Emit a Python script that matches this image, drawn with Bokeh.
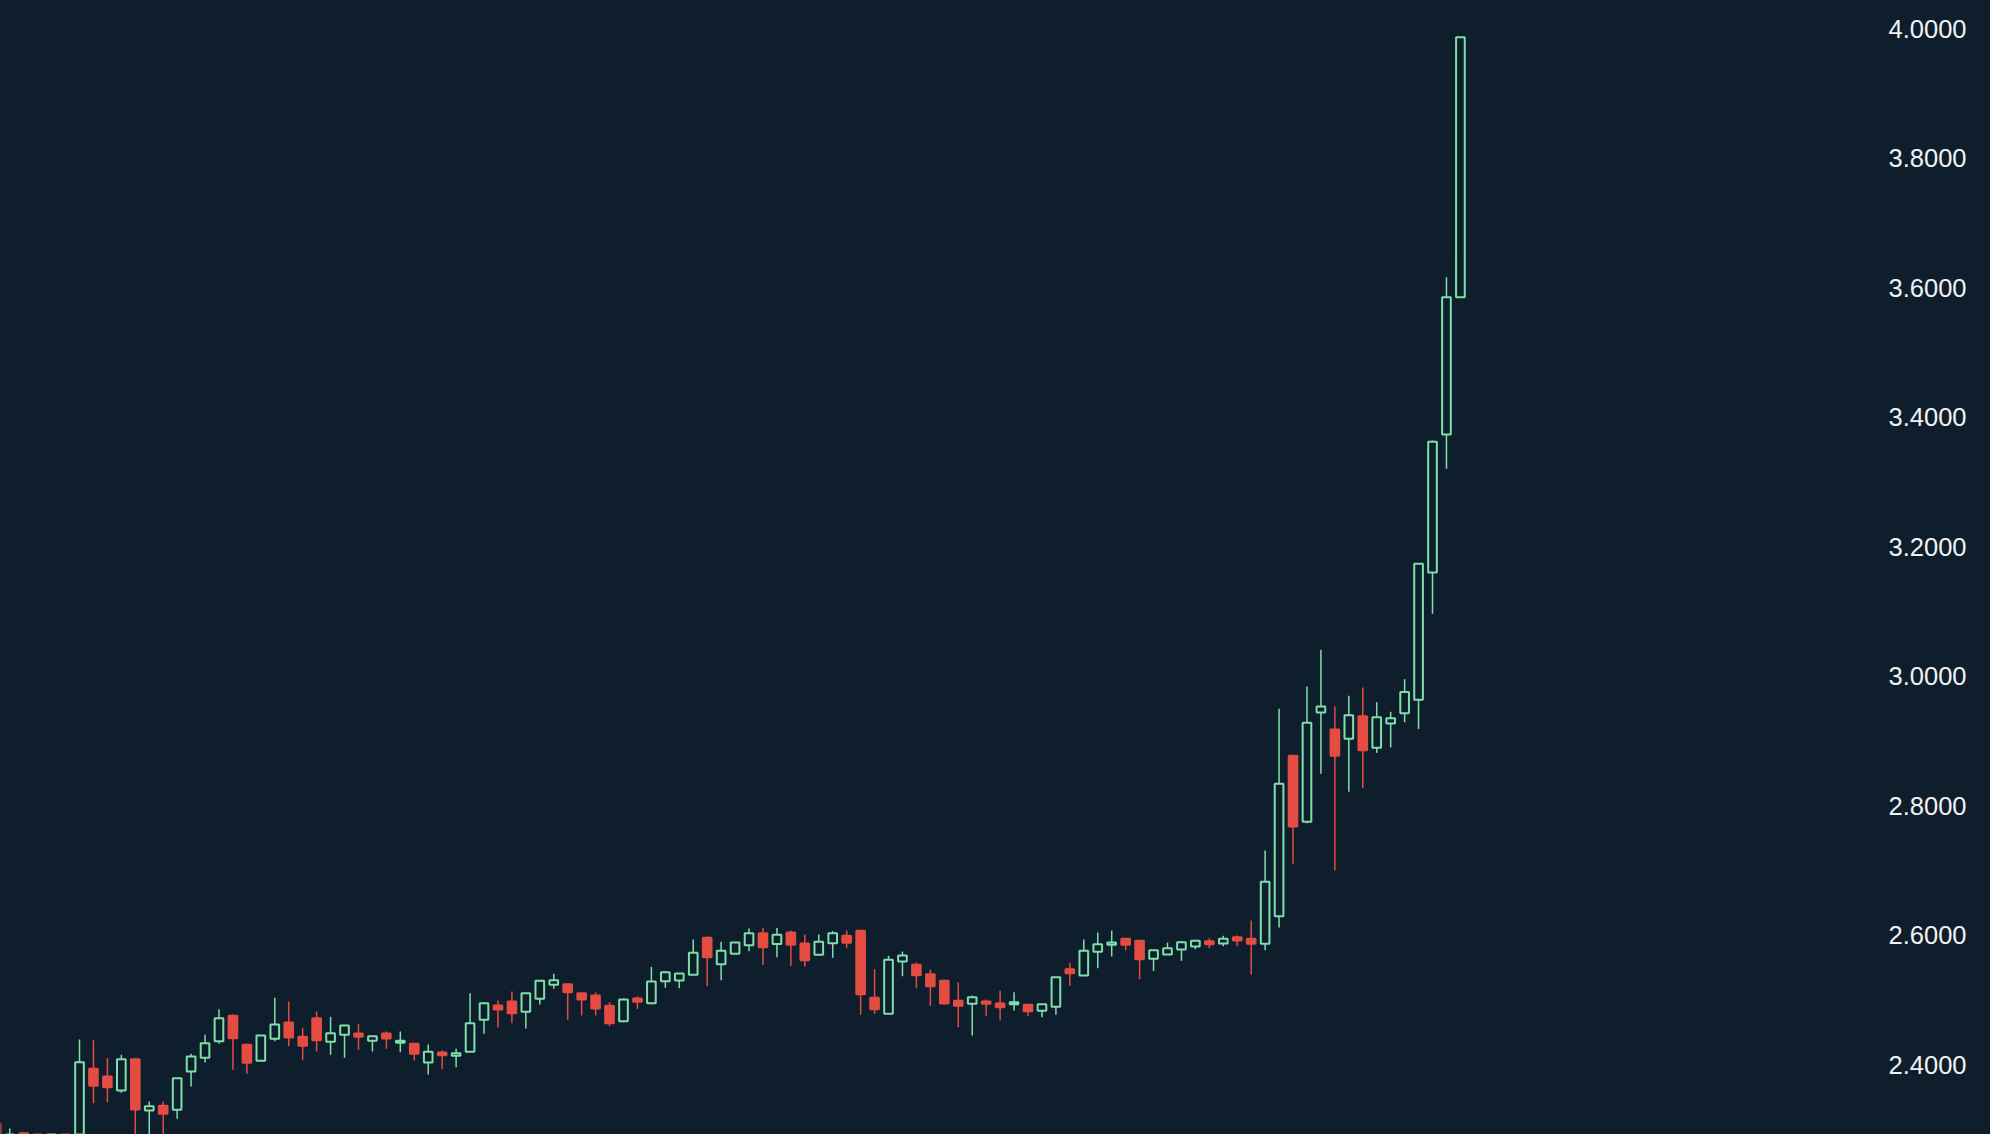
import numpy as np
from bokeh.plotting import figure
from bokeh.models import ColumnDataSource, FixedTicker, NumeralTickFormatter, GlobalInlineStyleSheet
from bokeh.embed import file_html
from bokeh.resources import INLINE

# OHLC values, oldest first
opens = [2.3092, 2.2650, 2.2942, 2.2700, 2.2600, 2.2750,
         2.2800, 2.3937, 2.3818, 2.3602, 2.4085, 2.3293, 2.3365, 2.3304, 2.3895, 2.4107,
         2.4363, 2.4755, 2.4307, 2.4060, 2.4400, 2.4652, 2.4431, 2.4718, 2.4354, 2.4462,
         2.4482, 2.4369, 2.4482, 2.4338, 2.4323, 2.4034, 2.4188, 2.4137, 2.4199, 2.4694,
         2.4914, 2.4976, 2.4817, 2.5018, 2.5234, 2.5243, 2.5104, 2.5069, 2.4910, 2.4672,
         2.5022, 2.4950, 2.5290, 2.5300, 2.5388, 2.5960, 2.5552, 2.5713, 2.5846, 2.6031,
         2.5864, 2.6042, 2.5872, 2.5697, 2.5876, 2.5991, 2.6068, 2.5033, 2.4786, 2.5594,
         2.5543, 2.5398, 2.5296, 2.4987, 2.4940, 2.4976, 2.4945, 2.4934, 2.4925, 2.4832,
         2.4894, 2.5475, 2.5378, 2.5744, 2.5852, 2.5944, 2.5913, 2.5635, 2.5702, 2.5779,
         2.5826, 2.5907, 2.5872, 2.5969, 2.5944, 2.5867, 2.6293, 2.8771, 2.7751, 2.9439,
         2.9177, 2.9033, 2.9382, 2.8894, 2.9270, 2.9427, 2.9636, 3.1602, 3.3733, 3.5853]
highs = [2.3150, 2.3015, 2.2950, 2.2800, 2.2780, 2.2820,
         2.4389, 2.4378, 2.4100, 2.4153, 2.4100, 2.3432, 2.3432, 2.3792, 2.4168, 2.4462,
         2.4857, 2.4775, 2.4323, 2.4451, 2.5033, 2.4976, 2.4570, 2.4822, 2.4740, 2.4616,
         2.4626, 2.4440, 2.4513, 2.4513, 2.4323, 2.4312, 2.4219, 2.4246, 2.5104, 2.4961,
         2.4992, 2.5131, 2.5104, 2.5296, 2.5404, 2.5243, 2.5104, 2.5115, 2.4965, 2.5022,
         2.5053, 2.5512, 2.5436, 2.5408, 2.5934, 2.5980, 2.5898, 2.5887, 2.6104, 2.6114,
         2.6111, 2.6073, 2.6011, 2.6011, 2.6062, 2.6073, 2.6068, 2.5475, 2.5682, 2.5748,
         2.5578, 2.5470, 2.5311, 2.5270, 2.5069, 2.5007, 2.5146, 2.5120, 2.4925, 2.4934,
         2.5351, 2.5574, 2.5934, 2.6042, 2.6073, 2.5960, 2.5913, 2.5768, 2.5887, 2.5907,
         2.5929, 2.5954, 2.5991, 2.5995, 2.6227, 2.7308, 2.9496, 2.8786, 2.9841, 3.0408,
         2.9532, 2.9697, 2.9826, 2.9599, 2.9450, 2.9954, 3.1736, 3.3640, 3.6162, 3.9869]
lows = [2.2700, 2.2550, 2.2600, 2.2550, 2.2500, 2.2600,
        2.2700, 2.3405, 2.3421, 2.3566, 2.2800, 2.2800, 2.2850, 2.3165, 2.3663, 2.4034,
        2.4323, 2.3921, 2.3859, 2.4060, 2.4363, 2.4286, 2.4076, 2.4204, 2.4153, 2.4107,
        2.4230, 2.4204, 2.4246, 2.4193, 2.4065, 2.3849, 2.3930, 2.3961, 2.4199, 2.4477,
        2.4575, 2.4641, 2.4559, 2.4930, 2.5172, 2.4694, 2.4760, 2.4760, 2.4595, 2.4656,
        2.4863, 2.4934, 2.5188, 2.5182, 2.5388, 2.5212, 2.5305, 2.5713, 2.5753, 2.5543,
        2.5660, 2.5527, 2.5517, 2.5697, 2.5651, 2.5799, 2.4771, 2.4786, 2.4786, 2.5367,
        2.5182, 2.4910, 2.4930, 2.4579, 2.4451, 2.4755, 2.4683, 2.4837, 2.4749, 2.4734,
        2.4771, 2.5219, 2.5378, 2.5490, 2.5671, 2.5768, 2.5320, 2.5447, 2.5702, 2.5605,
        2.5784, 2.5799, 2.5830, 2.5830, 2.5393, 2.5768, 2.6119, 2.7103, 2.7730, 2.8493,
        2.6999, 2.8215, 2.8270, 2.8817, 2.8899, 2.9288, 2.9185, 3.0964, 3.3203, 3.5853]
closes = [2.2850, 2.2800, 2.2700, 2.2600, 2.2720, 2.2650,
          2.4039, 2.3674, 2.3653, 2.4085, 2.3308, 2.3359, 2.3242, 2.3792, 2.4127, 2.4332,
          2.4718, 2.4409, 2.4029, 2.4451, 2.4621, 2.4420, 2.4292, 2.4378, 2.4487, 2.4605,
          2.4431, 2.4440, 2.4405, 2.4369, 2.4168, 2.4199, 2.4147, 2.4178, 2.4641, 2.4950,
          2.4853, 2.4795, 2.5104, 2.5296, 2.5305, 2.5120, 2.5007, 2.4868, 2.4641, 2.5007,
          2.4971, 2.5285, 2.5429, 2.5408, 2.5728, 2.5660, 2.5759, 2.5887, 2.6031, 2.5815,
          2.6006, 2.5852, 2.5614, 2.5898, 2.6031, 2.5883, 2.5089, 2.4857, 2.5620, 2.5687,
          2.5382, 2.5212, 2.4945, 2.4910, 2.5042, 2.4940, 2.4888, 2.4965, 2.4826, 2.4934,
          2.5351, 2.5413, 2.5759, 2.5861, 2.5887, 2.5852, 2.5629, 2.5768, 2.5799, 2.5892,
          2.5913, 2.5861, 2.5944, 2.5918, 2.5867, 2.6825, 2.8338, 2.7679, 2.9280, 2.9532,
          2.8771, 2.9398, 2.8857, 2.9367, 2.9351, 2.9756, 3.1736, 3.3620, 3.5853, 3.9869]
price_ticks = [2.4, 2.6, 2.8, 3.0, 3.2, 3.4, 3.6, 3.8, 4.0]

BG = "#0f1e2c"
UP = "#7ee0a8"
DOWN = "#e44c42"

idx = list(range(len(opens)))
is_up = [c >= o for o, c in zip(opens, closes)]
src = ColumnDataSource(dict(
    x=idx,
    high=highs,
    low=lows,
    top=[max(o, c) for o, c in zip(opens, closes)],
    bottom=[min(o, c) for o, c in zip(opens, closes)],
    line=[UP if u else DOWN for u in is_up],
    fill=[BG if u else DOWN for u in is_up],
))

p = figure(frame_width=1864, frame_height=1134,
           x_range=(0.336, 133.97), y_range=(2.2922, 4.04355),
           y_axis_location="right", x_axis_location=None,
           toolbar_location=None, output_backend="svg",
           background_fill_color=BG, border_fill_color=BG,
           outline_line_color=None,
           min_border_left=0, min_border_top=0, min_border_bottom=0,
           min_border_right=126)
p.grid.visible = False

p.segment(x0="x", y0="low", x1="x", y1="high", line_color="line",
          line_width=1.5, source=src)
p.vbar(x="x", width=0.62, top="top", bottom="bottom", fill_color="fill",
       line_color="line", line_width=2, source=src)

ax = p.yaxis[0]
ax.ticker = FixedTicker(ticks=price_ticks)
ax.formatter = NumeralTickFormatter(format="0.0000")
ax.axis_line_color = None
ax.major_tick_line_color = None
ax.minor_tick_line_color = None
ax.major_tick_out = 0
ax.major_tick_in = 0
ax.major_label_standoff = 24
ax.major_label_text_color = "#f2f2f2"
ax.major_label_text_font = "Liberation Sans"
ax.major_label_text_font_size = "25.5px"

p.stylesheets = [GlobalInlineStyleSheet(css="html, body { background-color: #0f1e2c; }")]

open("out.html", "w").write(file_html(p, INLINE))
